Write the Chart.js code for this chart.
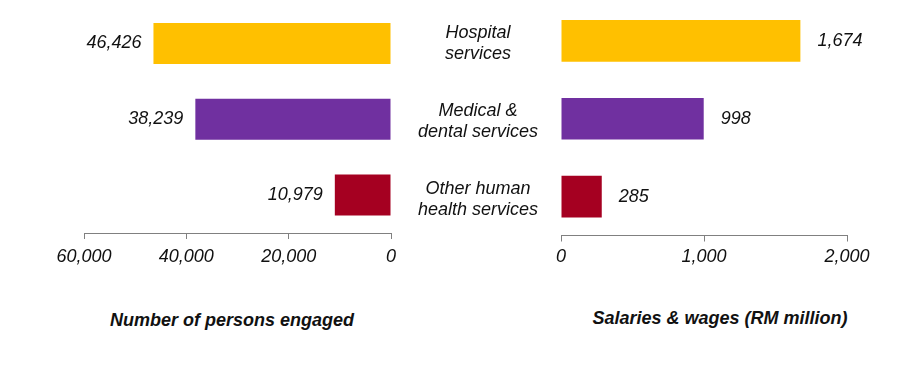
<!DOCTYPE html>
<html>
<head>
<meta charset="utf-8">
<script src="https://cdn.jsdelivr.net/npm/chart.js@4"></script>
<style>
  body { margin: 0; background: #fff; width: 924px; height: 376px; overflow: hidden; position: relative; }
  #leftBox { position: absolute; left: 0; top: 0; }
  #rightBox { position: absolute; left: 380px; top: 0; }
  .axisTitle { position: absolute; font: italic bold 18px "Liberation Sans", Arial, sans-serif; color: #111; white-space: nowrap; transform: translate(-50%, -50%); }
</style>
</head>
<body>
<div id="leftBox"><canvas id="personsChart" width="410" height="280"></canvas></div>
<div id="rightBox"><canvas id="wagesChart" width="544" height="280"></canvas></div>
<div class="axisTitle" style="left:232px; top:320px">Number of persons engaged</div>
<div class="axisTitle" style="left:720px; top:318px">Salaries &amp; wages (RM million)</div>
<script>
let categories = ["Hospital services", "Medical & dental services", "Other human health services"];
let categoryLines = [["Hospital", "services"], ["Medical &", "dental services"], ["Other human", "health services"]];
let personsEngaged = [46426, 38239, 10979];
let salariesWages = [1674, 998, 285];
let barColours = ["#FFC000", "#7030A0", "#A50021"];

let fontFamily = '"Liberation Sans", Arial, sans-serif';
let axisGrey = "#808080";

Chart.defaults.font.family = fontFamily;
Chart.defaults.font.size = 18;
Chart.defaults.font.style = "italic";
Chart.defaults.color = "#111";

function fmt(v) {
    return Number(v).toLocaleString("en-US");
}

// writes the number next to each bar
function valueLabels(side, gap) {
    return {
        id: "valueLabels",
        afterDatasetsDraw(chart) {
            let ctx = chart.ctx;
            let meta = chart.getDatasetMeta(0);
            ctx.save();
            ctx.font = "italic 18px " + fontFamily;
            ctx.fillStyle = "#111";
            ctx.textBaseline = "middle";
            ctx.textAlign = side === "left" ? "right" : "left";
            meta.data.forEach(function (bar, i) {
                let v = chart.data.datasets[0].data[i];
                let x = side === "left" ? bar.x - gap : bar.x + gap;
                ctx.fillText(fmt(v), x, bar.y);
            });
            ctx.restore();
        }
    };
}

function xAxis(max, step, reverse, height, pad) {
    return {
        type: "linear",
        min: 0,
        max: max,
        reverse: reverse,
        border: { display: true, color: axisGrey, width: 1 },
        grid: { drawOnChartArea: false, drawTicks: true, tickLength: 6, color: axisGrey },
        ticks: {
            stepSize: step,
            padding: pad,
            maxRotation: 0,
            callback: function (v) { return fmt(v); }
        },
        afterFit: function (scale) { scale.height = height; }
    };
}

let personsChart = new Chart(document.getElementById("personsChart"), {
    type: "bar",
    data: {
        labels: categories,
        datasets: [{
            data: personsEngaged,
            backgroundColor: barColours,
            categoryPercentage: 1,
            barPercentage: 0.54
        }]
    },
    options: {
        indexAxis: "y",
        responsive: false,
        animation: false,
        layout: { padding: { left: 84, right: 19, top: 5.5, bottom: 0 } },
        plugins: { legend: { display: false }, tooltip: { enabled: false } },
        scales: {
            x: xAxis(60000, 20000, true, 47, 7),
            y: { display: false }
        }
    },
    plugins: [valueLabels("left", 12)]
});

let wagesChart = new Chart(document.getElementById("wagesChart"), {
    type: "bar",
    data: {
        labels: categoryLines,
        datasets: [{
            data: salariesWages,
            backgroundColor: barColours,
            categoryPercentage: 1,
            barPercentage: 0.535
        }]
    },
    options: {
        indexAxis: "y",
        responsive: false,
        animation: false,
        layout: { padding: { left: 0, right: 77, top: 2, bottom: 0 } },
        plugins: { legend: { display: false }, tooltip: { enabled: false } },
        scales: {
            x: xAxis(2000, 1000, false, 44.5, 5),
            y: {
                border: { display: false },
                grid: { display: false, drawTicks: false },
                ticks: {
                    crossAlign: "center",
                    padding: 23,
                    labelOffset: 3,
                    font: { size: 18, style: "italic", lineHeight: 1.17 }
                },
                afterFit: function (scale) {
                    scale.width = 181;
                    scale.paddingTop = 0;
                    scale.paddingBottom = 0;
                }
            }
        }
    },
    plugins: [valueLabels("right", 17)]
});
</script>
</body>
</html>
